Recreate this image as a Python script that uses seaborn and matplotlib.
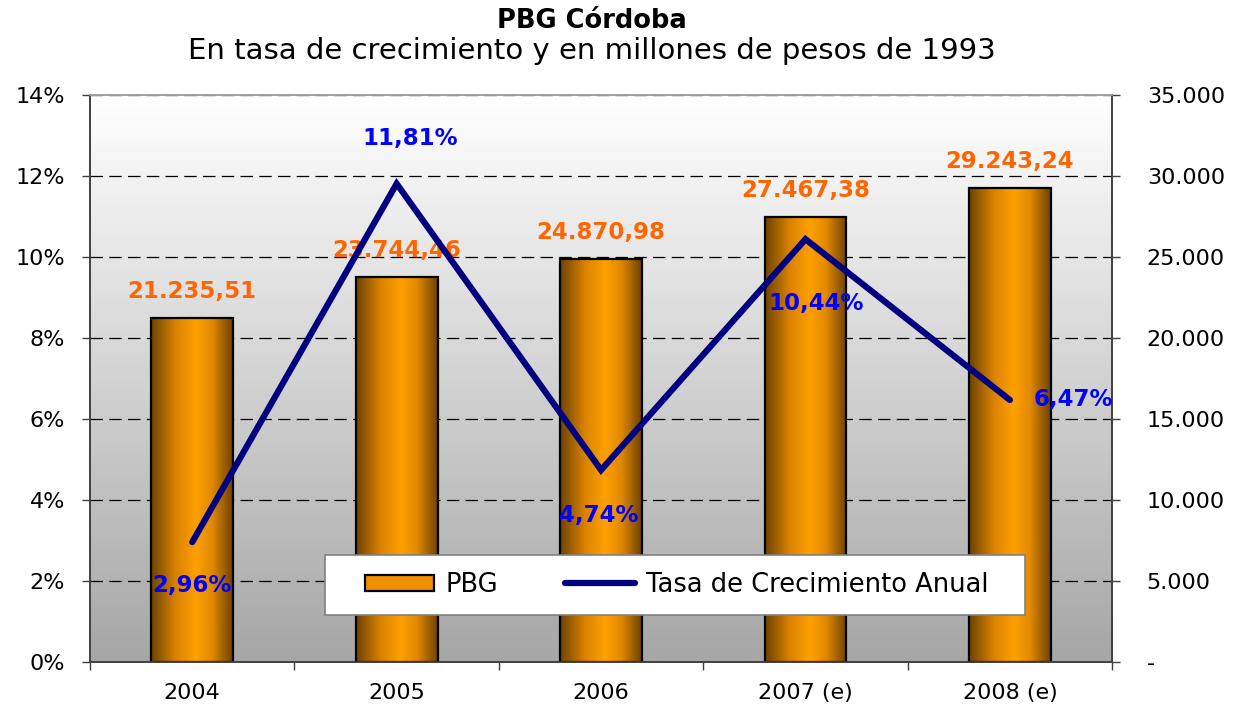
import numpy as np
import pandas as pd
import seaborn as sns
import matplotlib.pyplot as plt
from matplotlib.colors import LinearSegmentedColormap
from matplotlib.patches import Patch, Rectangle
from matplotlib.ticker import FuncFormatter, FixedLocator

# Data
years = ["2004", "2005", "2006", "2007 (e)", "2008 (e)"]
pbg = [21235.51, 23744.46, 24870.98, 27467.38, 29243.24]
growth = [2.96, 11.81, 4.74, 10.44, 6.47]

# offsets (px) of the growth labels relative to their points
growth_offsets = [(0, -43), (14, 45), (-2, -45), (11, -64), (24, 0)]
growth_ha = ["center", "center", "center", "center", "left"]

df = pd.DataFrame({"year": years, "pbg": pbg, "pos": np.arange(len(years)), "growth": np.array(growth) / 100})

sns.set_style("white")
plt.rcParams["font.family"] = ["DejaVu Sans"]
plt.rcParams["text.color"] = "black"
plt.rcParams["xtick.color"] = "black"
plt.rcParams["ytick.color"] = "black"

fig = plt.figure(figsize=(12.42, 7.08), dpi=100)
ax = fig.add_axes([0.0725, 0.065, 0.8229, 0.8008])
ax2 = ax.twinx()


def es_num(v, dec=2):
    s = f"{v:,.{dec}f}"
    return s.replace(",", "X").replace(".", ",").replace("X", ".")


# background gradient
bg = LinearSegmentedColormap.from_list("bg", ["#a6a6a6", "#ffffff"])
ax.imshow(np.linspace(0, 1, 256).reshape(-1, 1), cmap=bg, origin="lower", aspect="auto",
          extent=[0, 1, 0, 1], transform=ax.transAxes, zorder=0)

# bars (right axis)
sns.barplot(data=df, x="year", y="pbg", ax=ax, width=0.4, color="#ff9900", zorder=2)

bar_cmap = LinearSegmentedColormap.from_list(
    "bar", [(0, "#6e4200"), (0.3, "#d98200"), (0.55, "#ffa000"), (0.75, "#e08800"), (1, "#6e4200")])
grad = np.linspace(0, 1, 256).reshape(1, -1)
for p in ax.patches:
    x0, w, h = p.get_x(), p.get_width(), p.get_height()
    im = ax.imshow(grad, cmap=bar_cmap, aspect="auto", extent=[x0, x0 + w, 0, h], zorder=2)
    im.set_clip_path(p)
    p.set_facecolor("none")
    p.set_edgecolor("black")
    p.set_linewidth(1.6)
    p.set_zorder(3)
    ax.annotate(es_num(h), (x0 + w / 2, h), xytext=(0, 19), textcoords="offset points",
                ha="center", va="center", color="#ff6600", fontsize=16.5, fontweight="bold", zorder=4)
ax.set_xlim(-0.5, 4.5)
ax.set_ylim(0, 35000)

# gridlines
for yv in range(5000, 35001, 5000):
    ax.axhline(yv, color="black", lw=0.9, ls=(0, (10, 5)), zorder=1)

# line (left axis)
sns.lineplot(data=df, x="pos", y="growth", ax=ax2, color="#000080", lw=4.5,
             solid_capstyle="round", solid_joinstyle="miter", zorder=5)
for i, g in enumerate(growth):
    dx, dy = growth_offsets[i]
    ax2.annotate(es_num(g) + "%", (i, g / 100), xytext=(dx * 0.72, dy * 0.72), textcoords="offset points",
                 ha=growth_ha[i], va="center", color="#0000ff", fontsize=16.5, fontweight="bold", zorder=6)
ax2.set_ylim(0, 0.14)
ax2.set_xlim(-0.5, 4.5)

# axis formatting
ax.yaxis.tick_right()
ax.yaxis.set_label_position("right")
ax2.yaxis.tick_left()
ax2.yaxis.set_label_position("left")
ax.set_yticks(range(0, 35001, 5000))
ax.yaxis.set_major_formatter(FuncFormatter(lambda v, _: "-" if v == 0 else es_num(v, 0)))
ax2.set_yticks(np.arange(0, 0.141, 0.02))
ax2.yaxis.set_major_formatter(FuncFormatter(lambda v, _: f"{v * 100:.0f}%"))
ax.set_xlabel("")
ax.set_ylabel("")
ax2.set_xlabel("")
ax2.set_ylabel("")

ax.tick_params(axis="x", which="major", length=0, pad=15, labelsize=16)
ax.xaxis.set_minor_locator(FixedLocator(np.arange(-0.5, 4.6, 1)))
ax.tick_params(axis="x", which="minor", length=6, color="#404040", width=1, bottom=True)
ax.tick_params(axis="y", length=6, width=1, color="#404040", labelsize=16, pad=19, right=True, left=False)
ax2.tick_params(axis="y", length=6, width=1, color="#404040", labelsize=16, pad=12, left=True, right=False)
ax2.tick_params(axis="x", length=0, labelbottom=False)

for a in (ax, ax2):
    a.spines["left"].set_color("#404040")
    a.spines["right"].set_color("#404040")
    a.spines["bottom"].set_color("#404040")
    a.spines["top"].set_color("#a0a0a0")
    for s in a.spines.values():
        s.set_linewidth(1.2)
ax2.patch.set_visible(False)

# legend: white box plus frameless legend inside it
ax2.add_patch(Rectangle((0.23, 0.083), 0.685, 0.106, transform=ax2.transAxes, facecolor="white",
                        edgecolor="#808080", lw=1.2, zorder=9))
handles = [Patch(facecolor="#f08f00", edgecolor="black", lw=1.6),
           plt.Line2D([], [], color="#000080", lw=4.5, solid_capstyle="round")]
leg = ax2.legend(handles, ["PBG", "Tasa de Crecimiento Anual"], loc="center left",
                 bbox_to_anchor=(0.269, 0.136), ncol=2, fontsize=18.5, frameon=False,
                 handlelength=2.7, handleheight=0.55, handletextpad=0.45, columnspacing=2.6,
                 borderaxespad=0, borderpad=0)
leg.set_zorder(10)

# titles
fig.text(0.4767, 0.971, "PBG Córdoba", ha="center", va="center", fontsize=18.5, fontweight="bold")
fig.text(0.4767, 0.928, "En tasa de crecimiento y en millones de pesos de 1993", ha="center", va="center", fontsize=21)

fig.savefig("out.png", dpi=100)
